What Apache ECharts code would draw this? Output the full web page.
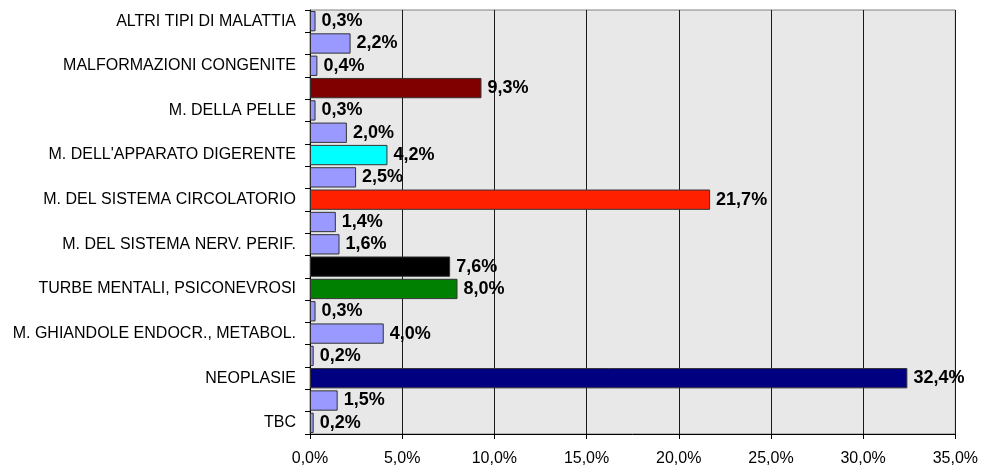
<!DOCTYPE html>
<html>
<head>
<meta charset="utf-8">
<script src="https://cdn.jsdelivr.net/npm/echarts@6/dist/echarts.min.js"></script>
<style>
html,body{margin:0;padding:0;background:#fff;}
#chart{width:981px;height:467px;}
</style>
</head>
<body>
<div id="chart"></div>
<script>
// Categories, bottom to top (blank = unlabelled bar)
var categories = [
  'TBC', '',
  'NEOPLASIE', '',
  'M. GHIANDOLE ENDOCR., METABOL.', '',
  'TURBE MENTALI, PSICONEVROSI', '',
  'M. DEL SISTEMA NERV. PERIF.', '',
  'M. DEL SISTEMA CIRCOLATORIO', '',
  "M. DELL'APPARATO DIGERENTE", '',
  'M. DELLA PELLE', '',
  'MALFORMAZIONI CONGENITE', '',
  'ALTRI TIPI DI MALATTIA'
];
// Percent values, bottom to top
var values = [
  0.2, 1.5,
  32.4, 0.2,
  4.0, 0.3,
  8.0, 7.6,
  1.6, 1.4,
  21.7, 2.5,
  4.2, 2.0,
  0.3, 9.3,
  0.4, 2.2,
  0.3
];
var xTicks = [0, 5, 10, 15, 20, 25, 30, 35];

// Styles
var barColors = [
  '#9999ff', '#9999ff',
  '#000080', '#9999ff',
  '#9999ff', '#9999ff',
  '#008000', '#000000',
  '#9999ff', '#9999ff',
  '#ff2000', '#9999ff',
  '#00ffff', '#9999ff',
  '#9999ff', '#800000',
  '#9999ff', '#9999ff',
  '#9999ff'
];

function pct(v) { return v.toFixed(1).replace('.', ',') + '%'; }

var chart = echarts.init(document.getElementById('chart'), null, {renderer: 'canvas'});
chart.setOption({
  animation: false,
  backgroundColor: '#ffffff',
  textStyle: {fontFamily: 'Arial, "Liberation Sans", sans-serif'},
  grid: {
    left: 310, right: 24, top: 10, bottom: 33,
    show: true, backgroundColor: '#e8e8e8', borderColor: '#808080', borderWidth: 1
  },
  xAxis: {
    type: 'value',
    min: xTicks[0], max: xTicks[xTicks.length - 1], interval: 5,
    axisLine: {show: true, lineStyle: {color: '#000', width: 1}},
    axisTick: {show: true, length: 5, lineStyle: {color: '#000'}},
    splitLine: {show: true, lineStyle: {color: '#1a1a1a', width: 1}},
    axisLabel: {
      formatter: function (v) { return pct(v); },
      fontSize: 16, color: '#000', margin: 17
    }
  },
  yAxis: {
    type: 'category',
    data: categories,
    axisLine: {show: true, lineStyle: {color: '#000', width: 1}},
    axisTick: {show: true, interval: 0, length: 5, lineStyle: {color: '#000'}},
    axisLabel: {interval: 0, fontSize: 16, color: '#000', margin: 14},
    splitLine: {show: false}
  },
  series: [{
    type: 'bar',
    barCategoryGap: '9%',
    data: values.map(function (v, i) {
      return {value: v, itemStyle: {color: barColors[i]}};
    }),
    itemStyle: {borderColor: '#333', borderWidth: 1},
    label: {
      show: true, position: 'right', distance: 6,
      formatter: function (p) { return pct(p.value); },
      fontSize: 18, fontWeight: 'bold', color: '#000'
    }
  }]
});
</script>
</body>
</html>
